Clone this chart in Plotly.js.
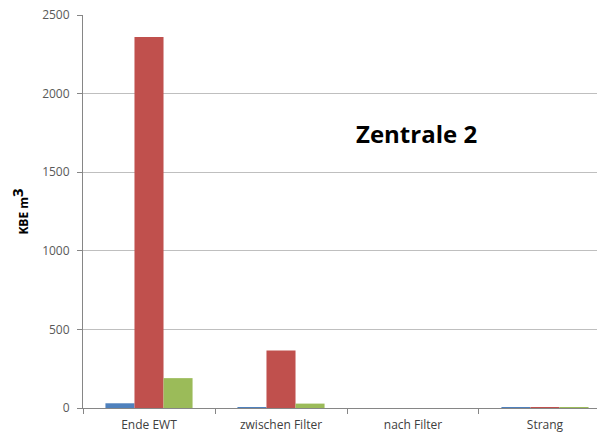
<!DOCTYPE html>
<html>
<head>
<meta charset="utf-8">
<script src="https://cdn.plot.ly/plotly-3.0.1.min.js"></script>
<style>
  body { margin: 0; background: #fff; }
  #chart { width: 597px; height: 434px; }
</style>
</head>
<body>
<div id="chart"></div>
<script>
// sampling points
var locations = ['Ende EWT', 'zwischen Filter', 'nach Filter', 'Strang'];

// three series, values (KBE per m3)
var blueVals = [30, 5, 0, 1];
var redVals = [2360, 365, 0, 5];
var greenVals = [190, 28, 0, 3];

var fontFam = '"Open Sans", "DejaVu Sans", sans-serif';

function barTrace(vals, color) {
    return {
        x: locations,
        y: vals,
        type: 'bar',
        marker: { color: color },
        hoverinfo: 'y'
    };
}

var data = [
    barTrace(blueVals, '#4F81BD'),
    barTrace(redVals, '#C0504D'),
    barTrace(greenVals, '#9BBB59')
];

var layout = {
    width: 597,
    height: 434,
    margin: { l: 83, r: 0, t: 15, b: 26 },
    paper_bgcolor: '#fff',
    plot_bgcolor: '#fff',
    showlegend: false,
    barmode: 'group',
    bargap: 0.34,
    bargroupgap: 0,
    font: { family: fontFam, color: '#595959', size: 12 },
    xaxis: {
        range: [-0.5, 3.394],
        showgrid: false,
        showline: true,
        linecolor: '#868686',
        linewidth: 1,
        ticks: 'outside',
        tickson: 'boundaries',
        ticklen: 5,
        tickcolor: '#868686',
        ticklabelstandoff: 6,
        tickfont: { size: 12, color: '#404040' }
    },
    yaxis: {
        range: [0, 2500],
        dtick: 500,
        showgrid: true,
        gridcolor: '#BFBFBF',
        zeroline: false,
        showline: true,
        linecolor: '#868686',
        ticks: 'outside',
        ticklen: 5,
        tickcolor: '#868686',
        ticklabelstandoff: 5,
        tickfont: { size: 12, color: '#595959' },
        title: {
            text: '<b>KBE m<sup><span style="font-size:15px">3</span></sup></b>',
            font: { size: 12, color: '#000' },
            standoff: 10
        }
    },
    annotations: [{
        text: '<b>Zentrale 2</b>',
        xref: 'paper', yref: 'paper',
        x: (416 - 83) / 514, y: (408 - 133) / 393,
        xanchor: 'center', yanchor: 'middle',
        showarrow: false,
        font: { size: 24, color: '#000', family: fontFam }
    }]
};

Plotly.newPlot('chart', data, layout, { displayModeBar: false });
</script>
</body>
</html>
